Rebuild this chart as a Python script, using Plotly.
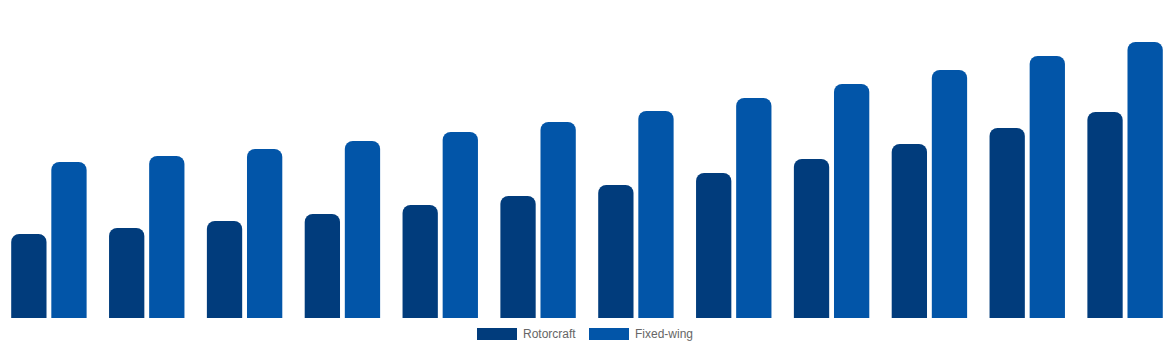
import plotly.graph_objects as go

categories = ["2013", "2014", "2015", "2016", "2017", "2018", "2019", "2020", "2021", "2022", "2023", "2024"]
rotorcraft = [84, 90, 97, 104, 113, 122, 133, 145, 159, 174, 190, 206]
fixed_wing = [156, 162, 169, 177, 186, 196, 207, 220, 234, 248, 262, 276]
series_names = ["Rotorcraft", "Fixed-wing"]
colors = ["#013c7c", "#0255a8"]

W, H = 1174, 350
plot_bottom = 318  # pixel
fig = go.Figure()
for name, vals, c in zip(series_names, [rotorcraft, fixed_wing], colors):
    fig.add_trace(go.Bar(x=categories, y=vals, name=name,
                         marker=dict(color=c, cornerradius=8, line=dict(width=0)),
                         showlegend=False))

# manual legend (wide swatches)
def px_x(p):
    return p / W
def px_y(p):
    return (plot_bottom - p) / plot_bottom

legend_items = [(477, 521), (589, 633)]
for (sx, tx), name, c in zip(legend_items, series_names, colors):
    fig.add_shape(type="rect", xref="paper", yref="paper",
                  x0=px_x(sx), x1=px_x(sx + 40), y0=px_y(340), y1=px_y(328),
                  fillcolor=c, line=dict(width=0))
    fig.add_annotation(xref="paper", yref="paper", x=px_x(tx), y=px_y(334),
                       text=name, showarrow=False, xanchor="left", yanchor="middle",
                       font=dict(family="Liberation Sans, Arial, sans-serif", size=12, color="#666666"))

fig.update_layout(
    width=W, height=H,
    margin=dict(l=0, r=0, t=0, b=H - plot_bottom),
    plot_bgcolor="white", paper_bgcolor="white",
    barmode="group", bargap=0.18, bargroupgap=0.12,
    xaxis=dict(visible=False),
    yaxis=dict(visible=False, range=[0, plot_bottom]),
    showlegend=False,
)
fig.write_html("out.html")
